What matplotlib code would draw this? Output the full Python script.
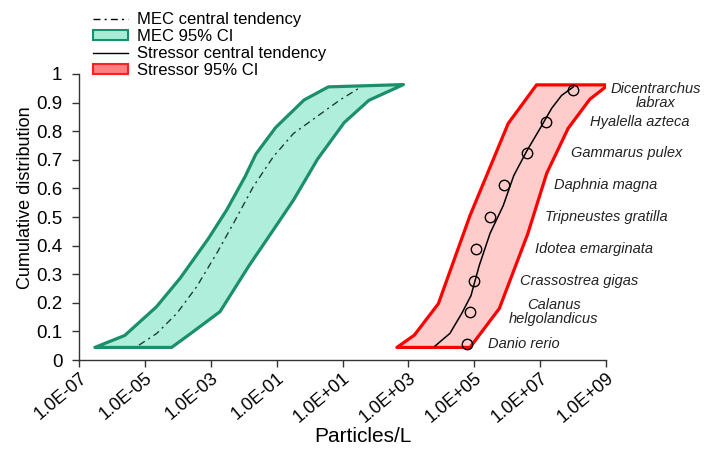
#!/usr/bin/env python

""" species sensitivity distribution vs measured environmental concentrations """

import numpy as np
import matplotlib.pyplot as plt
from matplotlib.patches import Patch
from matplotlib.lines import Line2D

plt.rcParams['font.family'] = ['Liberation Sans', 'DejaVu Sans']

# MEC band (log10 particles/L), left and right edges from bottom to top
mec_lo_log = [-6.52, -5.61, -4.65, -3.93, -3.07, -2.52, -1.96, -1.63, -1.03, -0.17, 0.57]
mec_lo_y = [0.044, 0.086, 0.186, 0.286, 0.425, 0.524, 0.641, 0.72, 0.813, 0.909, 0.955]
mec_hi_log = [-4.19, -3.70, -2.72, -1.86, -1.10, -0.49, 0.24, 1.05, 1.80, 2.85]
mec_hi_y = [0.044, 0.085, 0.169, 0.326, 0.455, 0.559, 0.702, 0.83, 0.908, 0.963]

# MEC central tendency
mec_mid_log = [-5.18, -4.64, -4.03, -3.43, -2.82, -2.31, -1.71, -1.10, -0.49, 0.22, 0.92, 1.58]
mec_mid_y = [0.052, 0.093, 0.163, 0.256, 0.373, 0.478, 0.606, 0.711, 0.792, 0.851, 0.909, 0.956]

# stressor (SSD) band
st_lo_log = [2.65, 3.18, 3.91, 4.87, 6.03, 6.89]
st_lo_y = [0.044, 0.087, 0.197, 0.505, 0.827, 0.962]
st_hi_log = [4.87, 5.76, 6.62, 7.20, 7.85, 8.51, 9.07]
st_hi_y = [0.044, 0.18, 0.44, 0.653, 0.81, 0.912, 0.962]

# stressor central tendency
st_mid_log = [3.81, 4.26, 4.62, 4.90, 5.15, 5.48, 5.88, 6.20, 6.59, 7.00, 7.35, 7.65, 8.01]
st_mid_y = [0.049, 0.093, 0.163, 0.225, 0.33, 0.443, 0.54, 0.645, 0.73, 0.81, 0.88, 0.925, 0.955]

# species endpoints (particles/L), lowest first
species = ['Danio rerio', 'Calanus\nhelgolandicus', 'Crassostrea gigas',
           'Idotea emarginata', 'Tripneustes gratilla', 'Daphnia magna',
           'Gammarus pulex', 'Hyalella azteca', 'Dicentrarchus\nlabrax']
species_conc = [5.9e4, 7.4e4, 1.0e5, 1.1e5, 2.9e5, 7.9e5, 3.9e6, 1.5e7, 1.0e8]
# where each name is written (log10 x)
label_log = [5.42, 7.42, 6.39, 6.84, 7.15, 7.42, 7.94, 8.51, 10.52]

xtick_exp = [-7, -5, -3, -1, 1, 3, 5, 7, 9]


def band(lo_log, lo_y, hi_log, hi_y):
    """ closed outline: left edge up, right edge down """
    xs = list(10.0 ** np.array(lo_log)) + list(10.0 ** np.array(hi_log[::-1]))
    ys = list(lo_y) + list(hi_y[::-1])
    return xs, ys


def main():
    fig = plt.figure(figsize=(7.05, 4.49), dpi=100)
    ax = fig.add_axes([0.1121, 0.1982, 0.7475, 0.637])

    green_edge = '#1b8f6c'
    green_fill = '#aeeedb'
    red_edge = '#ff0000'
    red_fill = '#ffcccc'

    xs, ys = band(mec_lo_log, mec_lo_y, mec_hi_log, mec_hi_y)
    ax.fill(xs, ys, facecolor=green_fill, edgecolor=green_edge, lw=2.3,
            joinstyle='round', zorder=2)
    ax.plot(10.0 ** np.array(mec_mid_log), mec_mid_y, color='#1e3d35', lw=1.0,
            ls=(0, (5, 3, 1.5, 3)), zorder=3)

    xs, ys = band(st_lo_log, st_lo_y, st_hi_log, st_hi_y)
    ax.fill(xs, ys, facecolor=red_fill, edgecolor=red_edge, lw=2.3,
            joinstyle='round', zorder=2)
    ax.plot(10.0 ** np.array(st_mid_log), st_mid_y, color='k', lw=1.1, zorder=3)

    # hazen plotting positions for the species points
    n = len(species_conc)
    pos = (np.arange(1, n + 1) - 0.5) / n
    ax.plot(species_conc, pos, 'o', ms=7.5, mfc='none', mec='k', mew=1.0, zorder=4)
    for name, lx, y in zip(species, label_log, pos):
        ha = 'center' if '\n' in name else 'left'
        if name.startswith('Dicen'):
            y -= 0.02
        ax.text(10.0 ** lx, y, name, ha=ha, va='center', style='italic',
                fontsize=10.5, color='#222222', linespacing=1.0,
                multialignment='center')

    ax.set_xscale('log')
    ax.set_xlim(1e-7, 1e9)
    ax.set_ylim(0, 1)
    ax.set_xticks([10.0 ** e for e in xtick_exp])
    ax.set_xticklabels(['1.0E%+03d' % e for e in xtick_exp], rotation=40,
                       ha='right', rotation_mode='anchor', fontsize=13)
    ax.xaxis.set_minor_locator(plt.NullLocator())
    yt = np.round(np.arange(0, 1.01, 0.1), 1)
    ax.set_yticks(yt)
    ax.set_yticklabels(['0' if v == 0 else ('1' if v == 1 else '%.1f' % v) for v in yt],
                       fontsize=13.5)
    ax.tick_params(axis='both', direction='out', length=5, width=1, color='#333333')
    ax.tick_params(axis='y', pad=7)
    ax.tick_params(axis='x', pad=2)
    for side in ['top', 'right']:
        ax.spines[side].set_visible(False)
    for side in ['left', 'bottom']:
        ax.spines[side].set_color('#333333')
        ax.spines[side].set_linewidth(1.0)

    ax.set_xlabel('Particles/L', fontsize=15)
    ax.set_ylabel('Cumulative distribution', fontsize=13)
    ax.xaxis.set_label_coords(0.539, -0.235)
    ax.yaxis.set_label_coords(-0.086, 0.566)

    handles = [
        Line2D([], [], color='k', lw=1.0, ls=(0, (5, 3, 1.5, 3))),
        Patch(facecolor='#a8ecd6', edgecolor=green_edge, lw=1.5),
        Line2D([], [], color='k', lw=1.0),
        Patch(facecolor='#ff8080', edgecolor='#ff2020', lw=1.5),
    ]
    labels = ['MEC central tendency', 'MEC 95% CI',
              'Stressor central tendency', 'Stressor 95% CI']
    fig.legend(handles, labels, loc='upper left', bbox_to_anchor=(93 / 705, 1 - 12 / 449),
               frameon=False, fontsize=12, borderpad=0, borderaxespad=0,
               labelspacing=0.12, handlelength=2.1, handleheight=0.5,
               handletextpad=0.55)

    fig.savefig('out.png', dpi=100)


if __name__ == "__main__":
    main()
